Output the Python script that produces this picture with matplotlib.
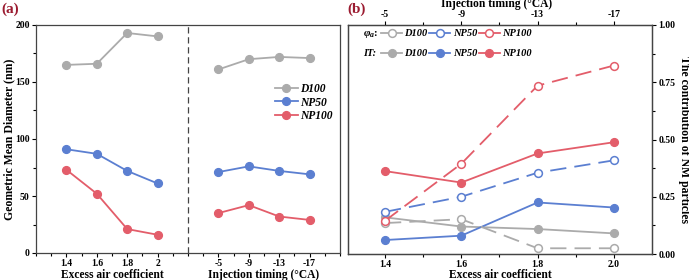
import numpy as np
import matplotlib
matplotlib.use('Agg')
import matplotlib.pyplot as plt
from matplotlib.ticker import MultipleLocator, FixedLocator, FormatStrFormatter

plt.rcParams['font.family'] = ['Liberation Serif', 'DejaVu Serif']
plt.rcParams['font.weight'] = 'bold'
plt.rcParams['mathtext.fontset'] = 'custom'
plt.rcParams['mathtext.it'] = 'Liberation Serif:italic:bold'
plt.rcParams['mathtext.rm'] = 'Liberation Serif:bold'

# ---- data: panel (a) geometric mean diameter (nm)
eac_labels = ['1.4', '1.6', '1.8', '2']
it_labels = ['-5', '-9', '-13', '-17']
gmd_d100_eac = [165, 166, 193, 190]
gmd_np50_eac = [91, 87, 72, 61]
gmd_np100_eac = [73, 52, 21, 16]
gmd_d100_it = [161, 170, 172, 171]
gmd_np50_it = [71, 76, 72, 69]
gmd_np100_it = [35, 42, 32, 29]

# ---- data: panel (b) contribution of NM particles
eac_vals = [1.4, 1.6, 1.8, 2.0]
phi_d100 = [0.135, 0.152, 0.025, 0.025]
phi_np50 = [0.184, 0.25, 0.355, 0.409]
phi_np100 = [0.145, 0.394, 0.735, 0.823]
it_d100 = [0.16, 0.12, 0.109, 0.09]
it_np50 = [0.061, 0.08, 0.225, 0.203]
it_np100 = [0.362, 0.312, 0.439, 0.488]

GRAY = '#ABABAB'
BLUE = '#5B7FD1'
RED = '#E35D6A'
LABEL_RED = '#9B1B30'
SPINE = '#444444'

W, H = 689, 280
fig = plt.figure(figsize=(W / 100, H / 100), dpi=100)
ax_a = fig.add_axes([36 / W, 1 - 253 / H, 304 / W, 228 / H])
ax_b = fig.add_axes([348 / W, 1 - 254 / H, 304 / W, 229 / H])

lw = 1.3
ms = 5.6

# ---------------- panel (a)
x_left = np.arange(1, 5)
x_right = np.arange(6, 10)
for vals_l, vals_r, c, name in [(gmd_d100_eac, gmd_d100_it, GRAY, 'D100'),
                                (gmd_np50_eac, gmd_np50_it, BLUE, 'NP50'),
                                (gmd_np100_eac, gmd_np100_it, RED, 'NP100')]:
    ax_a.plot(x_left, vals_l, '-o', color=c, lw=lw, ms=ms, label=name)
    ax_a.plot(x_right, vals_r, '-o', color=c, lw=lw, ms=ms)

ax_a.axvline(5, color=SPINE, lw=0.9, ls=(0, (5, 3)))
ax_a.set_xlim(0, 10)
ax_a.set_ylim(0, 200)
ax_a.set_xticks(list(x_left) + list(x_right))
ax_a.set_xticklabels(eac_labels + it_labels)
ax_a.xaxis.set_minor_locator(MultipleLocator(0.5))
ax_a.yaxis.set_major_locator(MultipleLocator(50))
ax_a.yaxis.set_minor_locator(MultipleLocator(25))
ax_a.tick_params(axis='both', which='major', labelsize=7, length=3, width=0.8, pad=1.5)
ax_a.tick_params(axis='both', which='minor', length=2, width=0.8)
ax_a.legend(loc='center right', bbox_to_anchor=(1.01, 0.66), frameon=False,
            prop={'family': 'Liberation Serif', 'style': 'italic', 'weight': 'bold', 'size': 8.3},
            handlelength=2.0, handletextpad=0.2, labelspacing=0.15)
for sp in ax_a.spines.values():
    sp.set_color(SPINE)
    sp.set_linewidth(0.9)

fig.text(9 / W, 1 - 139 / H, 'Geometric Mean Diameter (nm)', rotation=90,
         ha='center', va='center', fontsize=8.5)
fig.text(112 / W, 1 - 275 / H, 'Excess air coefficient', ha='center', va='center', fontsize=8.3)
fig.text(264 / W, 1 - 275 / H, 'Injection timing (\u00b0CA)', ha='center', va='center', fontsize=8.3)

# ---------------- panel (b)
dash = (0, (9, 4.5))
for vals, c in [(phi_d100, GRAY), (phi_np50, BLUE), (phi_np100, RED)]:
    ax_b.plot(eac_vals, vals, ls=dash, color=c, lw=lw, marker='o', ms=ms,
              mfc='white', mec=c, mew=1.1, zorder=3)
for vals, c in [(it_d100, GRAY), (it_np50, BLUE), (it_np100, RED)]:
    ax_b.plot(eac_vals, vals, '-o', color=c, lw=lw, ms=ms, zorder=2)

ax_b.set_xlim(1.303, 2.1)
ax_b.set_ylim(0, 1.0)
ax_b.set_xticks(eac_vals)
ax_b.set_xticklabels(['1.4', '1.6', '1.8', '2.0'])
ax_b.xaxis.set_minor_locator(FixedLocator([1.5, 1.7, 1.9]))
ax_b.yaxis.tick_right()
ax_b.yaxis.set_major_locator(MultipleLocator(0.25))
ax_b.yaxis.set_minor_locator(MultipleLocator(0.125))
ax_b.yaxis.set_major_formatter(FormatStrFormatter('%.2f'))
ax_b.tick_params(axis='both', which='major', labelsize=7, length=3, width=0.8, pad=1.5)
ax_b.tick_params(axis='both', which='minor', length=2, width=0.8)

ax_top = ax_b.twiny()
ax_top.set_xlim(ax_b.get_xlim())
ax_top.set_xticks(eac_vals)
ax_top.set_xticklabels(it_labels)
ax_top.xaxis.set_minor_locator(FixedLocator([1.5, 1.7, 1.9]))
ax_top.tick_params(axis='x', which='major', labelsize=7, length=3, width=0.8, pad=1.5)
ax_top.tick_params(axis='x', which='minor', length=2, width=0.8)

for a in (ax_b, ax_top):
    for sp in a.spines.values():
        sp.set_color(SPINE)
        sp.set_linewidth(0.9)

fig.text(500 / W, 1 - 275 / H, 'Excess air coefficient', ha='center', va='center', fontsize=8.3)
fig.text(497 / W, 1 - 4.5 / H, 'Injection timing (\u00b0CA)', ha='center', va='center', fontsize=8.3)
fig.text(684 / W, 1 - 139 / H, 'The contribution of NM particles', rotation=270,
         ha='center', va='center', fontsize=8.5)

# legend for panel (b): row 1 = phi_a (open), row 2 = IT (filled)
names = ['D100', 'NP50', 'NP100']
handles, labels = [], []
for c, n in zip((GRAY, BLUE, RED), names):
    handles.append(plt.Line2D([], [], color=c, lw=lw, marker='o', ms=ms, mfc='white', mec=c, mew=1.1))
    handles.append(plt.Line2D([], [], color=c, lw=lw, marker='o', ms=ms))
    labels += [n, n]
ax_b.legend(handles, labels, ncol=3, loc='upper left', bbox_to_anchor=(0.085, 1.015),
            frameon=False, columnspacing=0.15, handlelength=2.0, handletextpad=0.25,
            labelspacing=1.05, borderaxespad=0.3,
            prop={'family': 'Liberation Serif', 'style': 'italic', 'weight': 'bold', 'size': 7.5})
fig.text(363 / W, 1 - 34 / H, r'$\varphi_a$:', ha='left', va='center', fontsize=8)
fig.text(363 / W, 1 - 54 / H, 'IT:', ha='left', va='center', fontsize=7.5, style='italic')

fig.text(0.002, 1 - 9 / H, '(a)', color=LABEL_RED, fontsize=11, ha='left', va='center')
fig.text(347 / W, 1 - 9 / H, '(b)', color=LABEL_RED, fontsize=11, ha='left', va='center')

fig.savefig('out.png', dpi=100)
